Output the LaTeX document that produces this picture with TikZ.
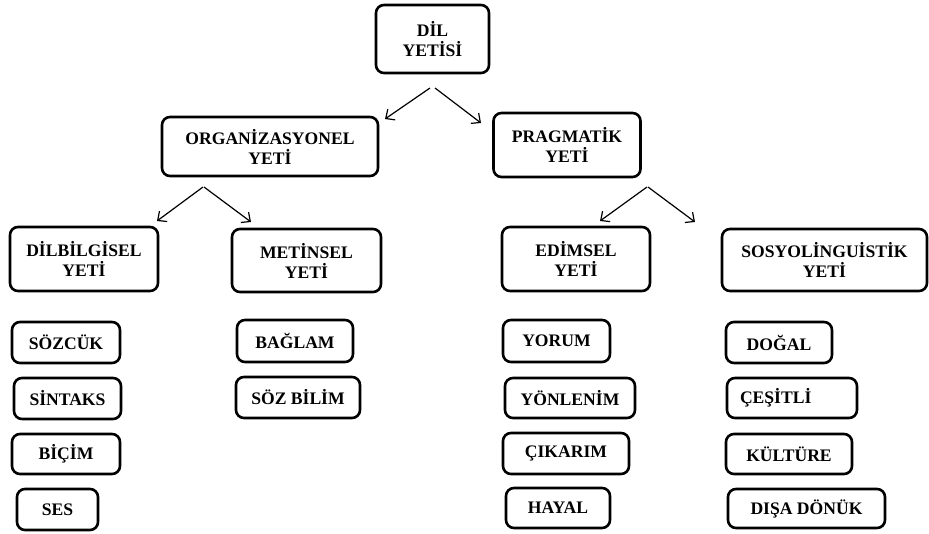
\documentclass[tikz,border=0pt]{standalone}
\usepackage{fontspec}
\setmainfont{Liberation Serif}
\usetikzlibrary{arrows.meta}
\begin{document}
\begin{tikzpicture}[x=1pt,y=-1pt,
  box/.style={draw=black,line width=2.6pt,rounded corners=8pt,align=center,
    font=\fontsize{17.6}{20}\selectfont\bfseries,inner sep=0pt},
  arr/.style={line width=1.2pt,-{Straight Barb[length=7pt,width=13pt,line width=1.2pt]}}]
\useasboundingbox (0,0) rectangle (929,534);
% level 0
\node[box,minimum width=113pt,minimum height=68pt] (dil) at (432.5,39) {DİL\\YETİSİ};
% level 1
\node[box,minimum width=216pt,minimum height=59pt] (org) at (270,146.5) {ORGANİZASYONEL\\YETİ};
\node[box,minimum width=147pt,minimum height=64pt] (prag) at (567,145) {PRAGMATİK\\YETİ};
% level 2
\node[box,minimum width=148pt,minimum height=64pt] (dilb) at (84,259) {DİLBİLGİSEL\\YETİ};
\node[box,minimum width=149pt,minimum height=63pt] (metin) at (306.5,260.5) {METİNSEL\\YETİ};
\node[box,minimum width=148pt,minimum height=64pt] (edim) at (576,259) {EDİMSEL\\YETİ};
\node[box,minimum width=205pt,minimum height=62pt] (sosyo) at (824.5,260) {SOSYOLİNGUİSTİK\\YETİ};
% leaves
\node[box,minimum width=108pt,minimum height=41pt] (sozcuk) at (66,342.5) {SÖZCÜK};
\node[box,minimum width=107pt,minimum height=41pt] (sintaks) at (67.5,398.5) {SİNTAKS};
\node[box,minimum width=108pt,minimum height=40pt] (bicim) at (66,454) {BİÇİM};
\node[box,minimum width=81pt,minimum height=41pt] (ses) at (57.5,509.5) {SES};
\node[box,minimum width=116pt,minimum height=42pt] (baglam) at (295,341) {BAĞLAM};
\node[box,minimum width=124pt,minimum height=41pt] (sozbilim) at (298,397.5) {SÖZ BİLİM};
\node[box,minimum width=107pt,minimum height=42pt] (yorum) at (556.5,341) {YORUM};
\node[box,minimum width=130pt,minimum height=40pt] (yonlenim) at (570,398) {YÖNLENİM};
\node[box,minimum width=126pt,minimum height=41pt] (cikarim) at (566,453.5) {ÇIKARIM};
\node[box,minimum width=104pt,minimum height=40pt] (hayal) at (558,508) {HAYAL};
\node[box,minimum width=106pt,minimum height=41pt] (dogal) at (779,342.5) {DOĞAL};
\node[box,minimum height=40pt,text width=104pt,inner xsep=13pt,align=left] (cesitli) at (792,398) {ÇEŞİTLİ};
\node[box,minimum width=126pt,minimum height=40pt] (kulture) at (789,454) {KÜLTÜRE};
\node[box,minimum width=157pt,minimum height=39pt] (disa) at (806.5,508.5) {DIŞA DÖNÜK};
% connector ends
\coordinate (dilL) at (430,88); \coordinate (dilR) at (435,88);
\coordinate (orgIn) at (385,119); \coordinate (pragIn) at (481,123);
\coordinate (orgL) at (203,187); \coordinate (orgR) at (204,187);
\coordinate (dilbIn) at (157,221); \coordinate (metinIn) at (251,222);
\coordinate (pragL) at (647,187); \coordinate (pragR) at (648,187);
\coordinate (edimIn) at (600,221); \coordinate (sosyoIn) at (695,222);
\draw[arr] (dilL) -- (orgIn);
\draw[arr] (dilR) -- (pragIn);
\draw[arr] (orgL) -- (dilbIn);
\draw[arr] (orgR) -- (metinIn);
\draw[arr] (pragL) -- (edimIn);
\draw[arr] (pragR) -- (sosyoIn);
\end{tikzpicture}
\end{document}
